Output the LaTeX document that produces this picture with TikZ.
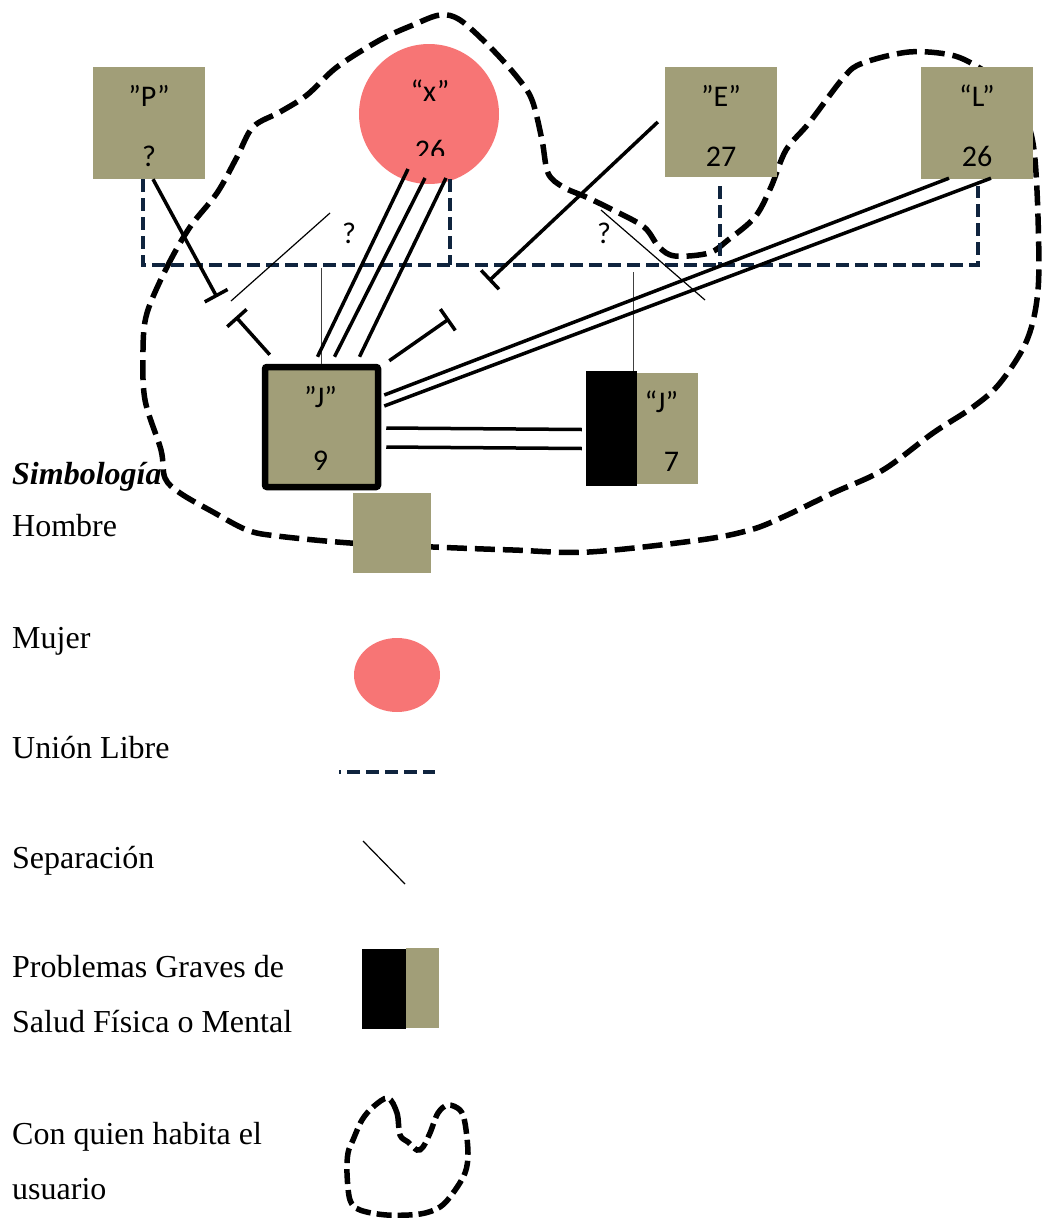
\documentclass[tikz,border=0pt]{standalone}
\usepackage{fontspec}
\setmainfont{Liberation Serif}
\newfontfamily\calibri{Carlito}
\usetikzlibrary{calc,arrows.meta,shapes.geometric}
\definecolor{gnolive}{RGB}{161,158,120}
\definecolor{gnpink}{RGB}{247,117,117}
\definecolor{gnnavy}{RGB}{15,36,62}

\tikzset{
  person/.style={fill=gnolive, minimum width=112pt, minimum height=112pt, inner sep=0pt},
  tag/.style={font=\calibri\fontsize{30}{36}\selectfont, inner sep=0pt},
  leyenda/.style={font=\fontsize{32}{38}\selectfont, anchor=base west, inner sep=0pt},
  union/.style={gnnavy, line width=4pt, dash pattern=on 13pt off 6pt},
  tie/.style={line width=3.5pt},
  conflict/.style={tie, -{Bar[width=26pt]}},
  fine/.style={line width=1.2pt},
  home/.style={line width=5.5pt, dash pattern=on 20pt off 8pt},
}

\begin{document}
\begin{tikzpicture}[x=1pt,y=-1pt]
\useasboundingbox (0,0) rectangle (1042,1218);

% Con quien habita el usuario
\draw[home] plot[smooth cycle, tension=0.55] coordinates {
  (147,313) (167,267) (190,227) (217,193) (237,157) (253,127) (280,112)
  (307,95) (337,67) (380,40) (413,25) (440,15) (460,20) (490,47) (517,77)
  (532,100) (542,140) (548,173) (563,187) (586,197) (613,210) (644,227)
  (659,247) (675,256) (709,253) (728,240) (755,217) (771,187) (786,150)
  (809,123) (844,77) (863,63) (909,52) (951,55) (978,67) (1005,87)
  (1025,117) (1034,150) (1038,217) (1038,290) (1027,340) (1000,383)
  (973,407) (933,433) (883,470) (833,493) (783,517) (750,530) (700,540)
  (589,552) (513,550) (433,547) (350,543) (277,536) (247,530) (213,512)
  (180,493) (165,478) (161,450) (145,400) (143,350)};

% Familia
\node[person] (P) at (149,123) {};
\node[circle, fill=gnpink, minimum size=140pt, inner sep=0pt] (X) at (429,114) {};
\node[person, minimum height=110pt] (E) at (721,122) {};
\node[person] (L) at (977,123) {};
\node[person, draw, line width=6.5pt, rounded corners=2pt,
      minimum width=113pt, minimum height=120pt] (J) at (321.5,427) {};
\node[fill=black, minimum width=51pt, minimum height=115pt, inner sep=0pt] (Jb) at (611.5,428.5) {};
\node[person, minimum width=61pt, minimum height=111pt, anchor=west] (Jc) at (Jb.east) {};

% Nombres y edades
\foreach \who/\up/\down in {P/”P”/?, E/”E”/27, L/“L”/26} {
  \node[tag] (\who-n) at ($(\who.north)+(0,29)$) {\up};
  \node[tag] (\who-a) at ($(\who.north)+(0,90)$) {\down};
}
\node[tag] (X-n) at ($(X.center)+(1,-23)$) {“x”};
\begin{scope}
  \clip ($(X.center)+(-70,0)$) rectangle ($(X.center)+(70,41)$);
  \node[tag] (X-a) at ($(X.center)+(1,36)$) {26};
\end{scope}
\node[tag] (J-n) at ($(J.center)+(-1,-30)$) {”J”};
\node[tag] (J-a) at ($(J.center)+(-1,34)$) {9};
\node[tag] (Jc-n) at ($(Jc.center)+(-6.5,-26.5)$) {“J”};
\node[tag] (Jc-a) at ($(Jc.center)+(3.5,33.5)$) {7};

% Union libre
\coordinate (ul) at (0,265);
\coordinate (uP) at ($(P.south)+(-6,0)$);
\coordinate (uX) at ($(X.south)+(21,-5)$);
\coordinate (uE) at ($(E.south)+(-1,9)$);
\coordinate (uL) at ($(L.south)+(1,7)$);
\draw[union] (uP) -- (uP |- ul) -| (uL);
\draw[union] (uX) -- (uX |- ul);
\draw[union] (uE) -- (uE |- ul);

% Hijos
\draw[fine, black!75] (J.north |- ul) ++(0,3) -- (J.north);
\coordinate (uJ) at ($(Jb.north east)+(-4,0)$);
\draw[fine, black!75] (uJ |- ul) ++(0,7) -- (uJ);

% Separaciones
\draw[fine] (330,213) -- (231,301);
\draw[fine] (601,210) -- (705,300);
\node[tag] (q1) at (349,233) {?};
\node[tag] (q2) at (604,233) {?};

% Relaciones
\draw[conflict] ($(P.south)+(4,0)$) -- ($(P.south)+(68,118)$);
\draw[conflict] ($(J.north west)+(8,-9)$) -- ($(J.north west)+(-26,-47)$);
\foreach \a/\b/\c in {-4/-21/55, 13/-4/64, 38/17/64}
  \draw[tie] ($(J.north)+(\a,-7)$) -- ($(X.center)+(\b,\c)$);
\draw[conflict] ($(J.north east)+(8,-3)$) -- ($(J.north east)+(68,-45)$);
\draw[conflict] ($(E.west)+(-7,0)$) -- ($(E.west)+(-176,159)$);
\draw[tie] ($(J.east)+(3,-32)$) -- ($(L.south)+(-28,-1)$);
\draw[tie] ($(J.east)+(3,-21)$) -- ($(L.south)+(14,-1)$);
\draw[tie] ($(J.east)+(5,1)$) -- ($(Jb.west)+(-4,1)$);
\draw[tie] ($(J.east)+(5,20)$) -- ($(Jb.west)+(-4,20)$);

% Simbologia
\node[leyenda] (sim) at (12,484) {\textbf{\textit{Simbología}}};
\node[leyenda] (hombre) at (12,536) {Hombre};
\node[fill=gnolive, minimum width=78pt, minimum height=80pt, inner sep=0pt] (lh) at (392,533) {};
\node[leyenda] (mujer) at (12,648) {Mujer};
\node[ellipse, fill=gnpink, minimum width=86pt, minimum height=74pt, inner sep=0pt] (lm) at (397,675) {};
\node[leyenda] (libre) at (12,758) {Unión Libre};
\draw[union, dash phase=11pt] (339,772) -- (435,772);
\node[leyenda] (sep) at (12,868) {Separación};
\draw[fine] (363,841) -- (405,884);
\node[leyenda] (prob1) at (12,977) {Problemas Graves de};
\node[leyenda] (prob2) at (12,1032.5) {Salud Física o Mental};
\fill[black] (362,949) rectangle (406,1029);
\fill[gnolive] (406,948) rectangle (439,1028);
\node[leyenda] (con1) at (12,1144) {Con quien habita el};
\node[leyenda] (con2) at (12,1199.5) {usuario};
\draw[home, dash pattern=on 15pt off 6pt] plot[smooth cycle, tension=0.55] coordinates {
  (388,1098) (397,1113) (400,1135) (408,1142) (417,1150) (423,1147)
  (430,1133) (438,1113) (448,1105) (460,1110) (465,1123) (468,1153)
  (465,1173) (453,1193) (440,1207) (420,1214) (387,1215) (360,1210)
  (350,1200) (347,1173) (348,1153) (353,1140) (362,1120) (373,1107)};
\end{tikzpicture}
\end{document}
